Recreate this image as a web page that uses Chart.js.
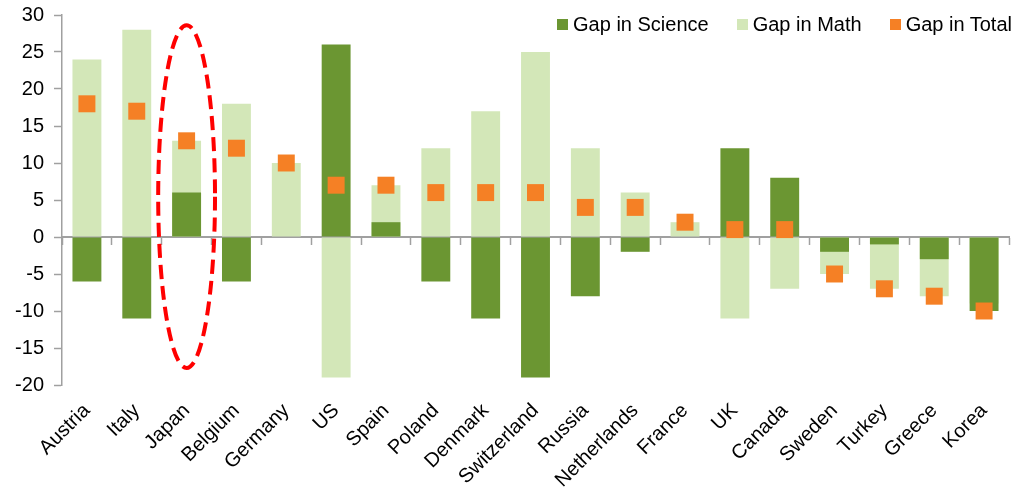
<!DOCTYPE html>
<html>
<head>
<meta charset="utf-8">
<script src="https://cdn.jsdelivr.net/npm/chart.js@4/dist/chart.umd.min.js"></script>
<style>
    html, body { margin: 0; padding: 0; background: #fff; }
    .wrap { position: relative; width: 1027px; height: 493px; }
    .legend {
        position: absolute; top: 12px; right: 15px;
        display: flex; align-items: center; gap: 28px;
        font: 20px 'Liberation Sans', Arial, sans-serif; color: #000;
        line-height: 24px;
    }
    .legend span.item { display: flex; align-items: center; }
    .legend i { display: inline-block; width: 11px; height: 11px; margin-right: 5px; }
</style>
</head>
<body>
<div class="wrap">
    <canvas id="grafico"></canvas>
    <div class="legend" data-id="legenda"></div>
</div>
<script>
var categories = ['Austria', 'Italy', 'Japan', 'Belgium', 'Germany', 'US', 'Spain', 'Poland', 'Denmark', 'Switzerland', 'Russia', 'Netherlands', 'France', 'UK', 'Canada', 'Sweden', 'Turkey', 'Greece', 'Korea'];
var gapScience = [-6, -11, 6, -6, 0, 26, 2, -6, -11, -19, -8, -2, 0, 12, 8, -2, -1, -3, -10];
var gapMath = [24, 28, 13, 18, 10, -19, 7, 12, 17, 25, 12, 6, 2, -11, -7, -5, -7, -8, -9];
var gapTotal = [18, 17, 13, 12, 10, 7, 7, 6, 6, 6, 4, 4, 2, 1, 1, -5, -7, -8, -10];
var yTicks = [-20, -15, -10, -5, 0, 5, 10, 15, 20, 25, 30];

(function (window, document) {
    'use strict';

    var FONT = "'Liberation Sans', Arial, sans-serif";
    var AXIS_GREY = '#a0a0a0';

    // elipse tracejada em volta do Japao
    var highlight = { category: 'Japan', top: 28.6, bottom: -17.7, halfWidth: 0.57 };

    var ellipsePlugin = {
        id: 'highlightEllipse',
        afterDatasetsDraw: function (chart) {
            var x = chart.scales.x;
            var y = chart.scales.y;
            var idx = categories.indexOf(highlight.category);
            var cx = x.getPixelForValue(idx);
            var step = x.getPixelForValue(1) - x.getPixelForValue(0);
            var top = y.getPixelForValue(highlight.top);
            var bottom = y.getPixelForValue(highlight.bottom);
            var ctx = chart.ctx;
            ctx.save();
            ctx.strokeStyle = '#ff0000';
            ctx.lineWidth = 4;
            ctx.setLineDash([14, 7]);
            ctx.beginPath();
            ctx.ellipse(cx, (top + bottom) / 2, step * highlight.halfWidth, (bottom - top) / 2, 0, 0, Math.PI * 2);
            ctx.stroke();
            ctx.restore();
        }
    };

    var $canvas = document.getElementById('grafico');
    var $legenda = document.querySelector('[data-id="legenda"]');

    var chart = new Chart($canvas, {
        type: 'bar',
        data: {
            labels: categories,
            datasets: [{
                label: 'Gap in Science',
                data: gapScience,
                backgroundColor: '#6b9632',
                grouped: false,
                categoryPercentage: 1,
                barPercentage: 0.58
            }, {
                label: 'Gap in Math',
                data: gapMath,
                backgroundColor: '#d3e7b8',
                grouped: false,
                categoryPercentage: 1,
                barPercentage: 0.58
            }, {
                type: 'line',
                label: 'Gap in Total',
                data: gapTotal,
                order: -1,
                showLine: false,
                backgroundColor: '#f58025',
                borderColor: '#f58025',
                pointStyle: 'rect',
                pointRadius: 12,
                pointHoverRadius: 12,
                pointBorderWidth: 0
            }]
        },
        options: {
            responsive: true,
            maintainAspectRatio: false,
            animation: false,
            layout: { padding: { top: 15, right: 18, left: 0, bottom: 0 } },
            plugins: {
                legend: { display: false },
                tooltip: { enabled: false }
            },
            scales: {
                x: {
                    type: 'category',
                    offset: true,
                    border: { display: false },
                    grid: { display: false },
                    ticks: {
                        font: { family: FONT, size: 20 },
                        color: '#000',
                        maxRotation: 45,
                        minRotation: 45,
                        padding: 6,
                        autoSkip: false
                    },
                    afterFit: function (scale) { scale.height = 108; }
                },
                x0: {
                    type: 'category',
                    position: { y: 0 },
                    offset: true,
                    border: { display: true, color: AXIS_GREY, width: 2 },
                    grid: { offset: true, drawOnChartArea: false, tickLength: 7, tickColor: AXIS_GREY, tickWidth: 1.5 },
                    ticks: { display: false }
                },
                y: {
                    min: -20,
                    max: 30,
                    afterBuildTicks: function (scale) {
                        scale.ticks = yTicks.map(function (v) { return { value: v }; });
                    },
                    border: { display: true, color: AXIS_GREY, width: 1.5 },
                    grid: { drawOnChartArea: false, tickLength: 8, color: AXIS_GREY, tickWidth: 1.5 },
                    ticks: {
                        font: { family: FONT, size: 20 },
                        color: '#000',
                        padding: 10
                    },
                    afterFit: function (scale) {
                        scale.width = 62;
                        // o topo da area fica so com o padding do layout
                        scale.paddingTop = 0;
                        scale.paddingBottom = 0;
                    }
                }
            }
        },
        plugins: [ellipsePlugin]
    });

    // legenda em html, posta sobre a area do grafico
    chart.data.datasets.forEach(function (ds) {
        var $item = document.createElement('span');
        $item.className = 'item';
        var $box = document.createElement('i');
        $box.style.background = ds.backgroundColor;
        $item.appendChild($box);
        $item.appendChild(document.createTextNode(ds.label));
        $legenda.appendChild($item);
    });
})(window, document);
</script>
</body>
</html>
